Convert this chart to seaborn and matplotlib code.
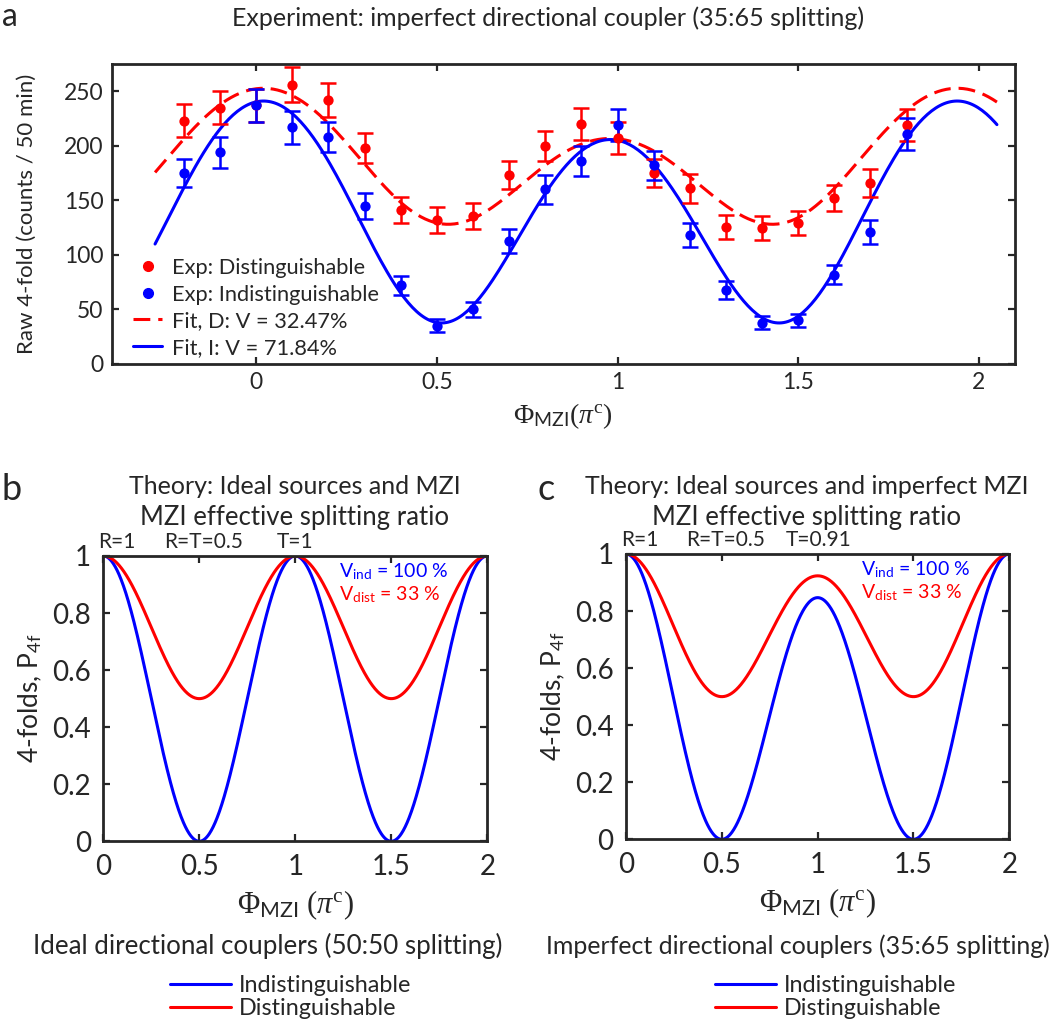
import numpy as np
import seaborn as sns
import matplotlib.pyplot as plt
from matplotlib.lines import Line2D
from matplotlib.ticker import FuncFormatter

# ---- panel a: measured raw 4-folds (counts / 50 min) ----
phi_exp = [-0.2, -0.1, 0.0, 0.1, 0.2, 0.3, 0.4, 0.5, 0.6, 0.7, 0.8, 0.9,
           1.0, 1.1, 1.2, 1.3, 1.4, 1.5, 1.6, 1.7, 1.8]
dist_counts = [223, 235, 237, 256, 242, 198, 141, 132, 136, 173, 200, 220,
               207, 175, 161, 126, 125, 129, 152, 166, 219]
dist_err = [15, 15, 15, 16, 16, 14, 12, 11.5, 12, 13, 14, 15,
            14.5, 13, 13, 11, 11, 11, 12, 13, 15]
indist_counts = [175, 194, 237, 217, 208, 145, 72, 35, 50, 113, 160, 186,
                 219, 182, 118, 68, 38, 40, 82, 121, 211]
indist_err = [13, 14, 15, 15, 14, 12, 8.5, 6, 7, 11, 13, 14,
              14.5, 13.5, 11, 8, 6, 6, 9, 11, 14.5]

# fit parameters: offset, cos(2*pi*u), cos(pi*u), cos(4*pi*u), x0, half period
fit_d_params = [181.0, 50.25, 23.0, -1.5, 0.02, 0.96]
fit_i_params = [133.6, 92.7, 17.65, -2.9, 0.02, 0.96]
fit_range = [-0.28, 2.05]
fit_labels = ["Fit, D: V = 32.47%", "Fit, I: V = 71.84%"]

# ---- panels b, c: theory ----
dip_ideal = 0.0      # extra loss of the middle fringe, ideal couplers
dip_imperfect = 0.153  # 35:65 couplers -> middle fringe at ~0.85
ratio_ticks_b = [(0.07, "R=1"), (0.52, "R=T=0.5"), (1.0, "T=1")]
ratio_ticks_c = [(0.073, "R=1"), (0.52, "R=T=0.5"), (1.007, "T=0.91")]

BLUE = (0, 0, 1)
RED = (1, 0, 0)
AX_COL = "#262626"

sns.set_style("ticks")
plt.rcParams["font.family"] = ["Lato", "DejaVu Sans"]
plt.rcParams["mathtext.fontset"] = "custom"
plt.rcParams["mathtext.rm"] = "Liberation Serif"
plt.rcParams["mathtext.it"] = "Liberation Serif:italic"
plt.rcParams["mathtext.sf"] = "Lato"
plt.rcParams["axes.linewidth"] = 2
plt.rcParams["axes.edgecolor"] = AX_COL

W, H = 1053, 1030


def fx(px):
    return px / W


def fy(py):
    return 1 - py / H


def fit_curve(x, p):
    b, a1, a2, a3, x0, t = p
    u = (x - x0) / t
    return b + a1 * np.cos(2 * np.pi * u) + a2 * np.cos(np.pi * u) + a3 * np.cos(4 * np.pi * u)


def theory(phi, dip):
    ind = np.cos(np.pi * phi) ** 2 * (1 - dip * np.sin(np.pi * phi / 2) ** 2)
    dist = (1 + ind) / 2
    return ind, dist


fmt = FuncFormatter(lambda v, pos: f"{v:g}")


def style_axes(ax, size, pad):
    ax.tick_params(direction="in", length=5, width=1.6, top=True, right=True,
                   labelsize=size, pad=pad, colors=AX_COL)
    ax.xaxis.set_major_formatter(fmt)
    ax.yaxis.set_major_formatter(fmt)
    for s in ax.spines.values():
        s.set_visible(True)


fig = plt.figure(figsize=(W / 100, H / 100), dpi=100)

# ---------------- panel a ----------------
ax = fig.add_axes([fx(111.7), fy(364), fx(1015 - 111.7), 300 / H])
xs = np.linspace(fit_range[0], fit_range[1], 400)
sns.lineplot(x=xs, y=fit_curve(xs, fit_d_params), ax=ax, color=RED, linewidth=2.2)
ax.lines[-1].set_dashes((5.5, 2.6))
sns.lineplot(x=xs, y=fit_curve(xs, fit_i_params), ax=ax, color=BLUE, linewidth=2.2)

ax.errorbar(phi_exp, dist_counts, yerr=dist_err, fmt="none", ecolor=RED,
            elinewidth=1.8, capsize=5.5, capthick=1.8, zorder=3)
ax.errorbar(phi_exp, indist_counts, yerr=indist_err, fmt="none", ecolor=BLUE,
            elinewidth=1.8, capsize=5.5, capthick=1.8, zorder=3)
sns.scatterplot(x=phi_exp, y=dist_counts, ax=ax, color=RED, s=55, linewidth=0, zorder=4)
sns.scatterplot(x=phi_exp, y=indist_counts, ax=ax, color=BLUE, s=55, linewidth=0, zorder=4)

ax.set_xlim(-0.4, 2.1)
ax.set_ylim(0, 275)
ax.set_xticks([0, 0.5, 1, 1.5, 2])
ax.set_yticks([0, 50, 100, 150, 200, 250])
style_axes(ax, 16.5, 6)
ax.set_xlabel(r"$\Phi_{\mathsf{MZI}}(\pi^{\mathrm{c}})$", fontsize=20, va="center")
ax.xaxis.set_label_coords(0.5, -0.175)
ax.set_ylabel("Raw 4-fold (counts / 50 min)", fontsize=16, va="center")
ax.yaxis.set_label_coords((27 - 111.7) / 903.3, 0.5)

handles = [
    Line2D([], [], color=RED, marker="o", linestyle="none", markersize=7),
    Line2D([], [], color=BLUE, marker="o", linestyle="none", markersize=7),
    Line2D([], [], color=RED, linewidth=2.2, dashes=(5.5, 2.6)),
    Line2D([], [], color=BLUE, linewidth=2.2),
]
labels = ["Exp: Distinguishable", "Exp: Indistinguishable"] + fit_labels
ax.legend(handles, labels, loc="lower left", bbox_to_anchor=(0.012, -0.015),
          frameon=False, fontsize=15.7, handlelength=1.3, handletextpad=0.45,
          labelspacing=0.3, borderpad=0)

fig.text(fx(548), fy(18), "Experiment: imperfect directional coupler (35:65 splitting)",
         ha="center", va="center", fontsize=18)
fig.text(fx(10), fy(17), "a", ha="center", va="center", fontsize=23)

# ---------------- panels b, c ----------------
phi = np.linspace(0, 2, 801)
panels = [
    dict(rect=[fx(103.3), fy(841.3), 384 / W, 285.3 / H], dip=dip_ideal,
         ratios=ratio_ticks_b, letter="b", letter_x=12, cx=295,
         title="Theory: Ideal sources and MZI",
         foot="Ideal directional couplers (50:50 splitting)", foot_x=268,
         foot_size=18.6, leg_x=291, vx=1.23),
    dict(rect=[fx(626), fy(839.3), 383.3 / W, 285.3 / H], dip=dip_imperfect,
         ratios=ratio_ticks_c, letter="c", letter_x=546, cx=807,
         title="Theory: Ideal sources and imperfect MZI",
         foot="Imperfect directional couplers (35:65 splitting)", foot_x=798,
         foot_size=17.9, leg_x=836, vx=1.225),
]

for p in panels:
    ax = fig.add_axes(p["rect"])
    ind, dist = theory(phi, p["dip"])
    sns.lineplot(x=phi, y=ind, ax=ax, color=BLUE, linewidth=2.2)
    sns.lineplot(x=phi, y=dist, ax=ax, color=RED, linewidth=2.2)
    ax.set_xlim(0, 2)
    ax.set_ylim(0, 1)
    ax.set_xticks([0, 0.5, 1, 1.5, 2])
    ax.set_yticks([0, 0.2, 0.4, 0.6, 0.8, 1])
    style_axes(ax, 20, 9)
    ax.set_xlabel(r"$\Phi_{\mathsf{MZI}}\ (\pi^{\mathrm{c}})$", fontsize=22, va="center")
    ax.xaxis.set_label_coords(0.5, -0.223)
    ax.set_ylabel(r"4-folds, P$_{\mathsf{4f}}$", fontsize=19, va="center")
    ax.yaxis.set_label_coords(-0.19, 0.5)

    for xr, s in p["ratios"]:
        ax.text(xr, 1.05, s, transform=ax.get_xaxis_transform(),
                ha="center", va="center", fontsize=15)
    ax.text(p["vx"], 0.945, r"V$_{\mathsf{ind}}$ = 100 %", color=BLUE,
            ha="left", va="center", fontsize=14)
    ax.text(p["vx"], 0.863, r"V$_{\mathsf{dist}}$ = 33 %", color=RED,
            ha="left", va="center", fontsize=14)

    fig.text(fx(p["letter_x"]), fy(490), p["letter"], ha="center", va="center", fontsize=26)
    fig.text(fx(p["cx"]), fy(487), p["title"], ha="center", va="center", fontsize=18)
    fig.text(fx(p["cx"]), fy(517), "MZI effective splitting ratio",
             ha="center", va="center", fontsize=18.5)
    fig.text(fx(p["foot_x"]), fy(946), p["foot"], ha="center", va="center",
             fontsize=p["foot_size"])

    leg_handles = [Line2D([], [], color=BLUE, linewidth=2.2),
                   Line2D([], [], color=RED, linewidth=2.2)]
    fig.legend(leg_handles, ["Indistinguishable", "Distinguishable"], loc="center",
               bbox_to_anchor=(fx(p["leg_x"]), fy(997)), frameon=False, fontsize=16.8,
               handlelength=2.6, handletextpad=0.35, labelspacing=0.1, borderpad=0)

fig.savefig("out.png", dpi=100)
